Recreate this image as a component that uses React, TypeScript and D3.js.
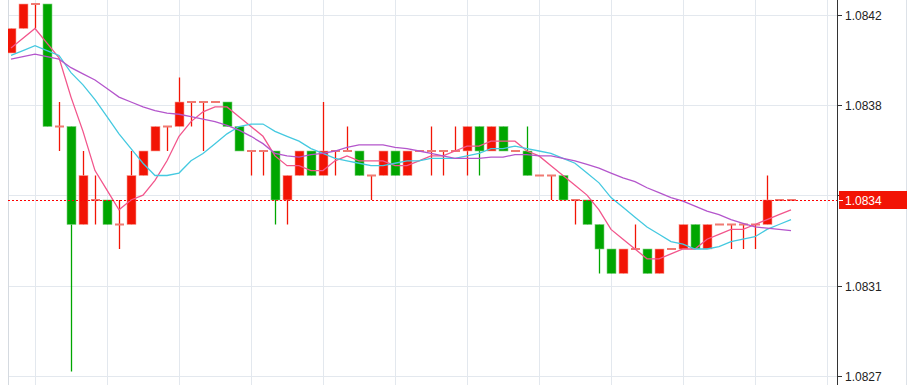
import * as d3 from 'd3';

// EUR/USD candles, 4-digit prices
const opens = [
  1.0840, 1.0841, 1.0842, 1.0842, 1.0837, 1.0837, 1.0833, 1.0834, 1.0834, 1.0833,
  1.0833, 1.0835, 1.0836, 1.0837, 1.0837, 1.0838, 1.0838, 1.0838, 1.0838, 1.0837,
  1.0836, 1.0836, 1.0836, 1.0834, 1.0835, 1.0836, 1.0835, 1.0836, 1.0836, 1.0836,
  1.0835, 1.0835, 1.0836, 1.0835, 1.0836, 1.0836, 1.0836, 1.0836, 1.0836, 1.0837,
  1.0836, 1.0837, 1.0836, 1.0836, 1.0835, 1.0835, 1.0835, 1.0834, 1.0834, 1.0833,
  1.0832, 1.0831, 1.0832, 1.0832, 1.0831, 1.0832, 1.0832, 1.0833, 1.0832, 1.0833,
  1.0833, 1.0833, 1.0833, 1.0833, 1.0834, 1.0834,
];
const closes = [
  1.0841, 1.0842, 1.0842, 1.0837, 1.0837, 1.0833, 1.0835, 1.0834, 1.0833, 1.0833,
  1.0835, 1.0836, 1.0837, 1.0837, 1.0838, 1.0838, 1.0838, 1.0838, 1.0837, 1.0836,
  1.0836, 1.0836, 1.0834, 1.0835, 1.0836, 1.0835, 1.0836, 1.0836, 1.0836, 1.0835,
  1.0835, 1.0836, 1.0835, 1.0836, 1.0836, 1.0836, 1.0836, 1.0836, 1.0837, 1.0836,
  1.0837, 1.0836, 1.0836, 1.0835, 1.0835, 1.0835, 1.0834, 1.0834, 1.0833, 1.0832,
  1.0831, 1.0832, 1.0832, 1.0831, 1.0832, 1.0832, 1.0833, 1.0832, 1.0833, 1.0833,
  1.0833, 1.0833, 1.0833, 1.0834, 1.0834, 1.0834,
];
const highs = [
  1.0841, 1.0842, 1.0842, 1.0842, 1.0838, 1.0837, 1.0836, 1.0835, 1.0834, 1.0834,
  1.0836, 1.0836, 1.0837, 1.0837, 1.0839, 1.0838, 1.0838, 1.0838, 1.0838, 1.0837,
  1.0836, 1.0836, 1.0836, 1.0835, 1.0836, 1.0836, 1.0838, 1.0836, 1.0837, 1.0836,
  1.0835, 1.0836, 1.0836, 1.0836, 1.0836, 1.0837, 1.0836, 1.0837, 1.0837, 1.0837,
  1.0837, 1.0837, 1.0836, 1.0837, 1.0835, 1.0835, 1.0835, 1.0834, 1.0834, 1.0833,
  1.0832, 1.0832, 1.0833, 1.0832, 1.0832, 1.0832, 1.0833, 1.0833, 1.0833, 1.0833,
  1.0833, 1.0833, 1.0833, 1.0835, 1.0834, 1.0834,
];
const lows = [
  1.0840, 1.0841, 1.0841, 1.0837, 1.0836, 1.0827, 1.0833, 1.0833, 1.0833, 1.0832,
  1.0833, 1.0835, 1.0836, 1.0836, 1.0837, 1.0837, 1.0836, 1.0838, 1.0837, 1.0836,
  1.0835, 1.0835, 1.0833, 1.0833, 1.0835, 1.0835, 1.0835, 1.0835, 1.0836, 1.0835,
  1.0834, 1.0835, 1.0835, 1.0835, 1.0836, 1.0835, 1.0835, 1.0836, 1.0835, 1.0835,
  1.0836, 1.0836, 1.0836, 1.0835, 1.0835, 1.0834, 1.0834, 1.0833, 1.0833, 1.0831,
  1.0831, 1.0831, 1.0832, 1.0831, 1.0831, 1.0832, 1.0832, 1.0832, 1.0832, 1.0833,
  1.0832, 1.0832, 1.0832, 1.0833, 1.0834, 1.0834,
];
// closes before the first visible candle (needed for the moving averages)
const prevCloses = [
  1.0840, 1.0840, 1.0839, 1.0839, 1.0840, 1.0840, 1.0839, 1.0840, 1.0840, 1.0839,
  1.0840, 1.0840, 1.0839, 1.0839, 1.0840, 1.0840, 1.0840, 1.0840, 1.0840,
];
const maPeriods = [5, 10, 20];
const maColors = ['#f2568c', '#45c9e0', '#b456cc'];
const tickValues = [1.084155, 1.083787, 1.083419, 1.083051, 1.082683];
const tickLabels = ['1.0842', '1.0838', '1.0834', '1.0831', '1.0827'];
const lastPrice = 1.0834;
const lastLabel = '1.0834';

const W = 908;
const H = 385;
const plotLeft = 8;
const axisX = 837;
const UP = '#f21405';
const DOWN = '#00a600';
const FONT = "'Liberation Sans', Arial, sans-serif";

function sma(period: number) {
  const all = [...prevCloses, ...closes];
  const off = prevCloses.length;
  return closes.map((_, i) => {
    const end = i + off;
    return d3.mean(all.slice(end - period + 1, end + 1)) as number;
  });
}

export default function App() {
  const x = d3.scaleLinear().domain([0, 1]).range([11, 23]);
  const y = d3.scaleLinear().domain([1.0827, 1.0842]).range([371.5, 4]);

  const vGrid = d3.range(2, 69, 6);
  const line = d3.line<number>().x((_, i) => x(i)).y((d) => y(d));
  const lastY = Math.round(y(lastPrice));

  return (
    <svg width={W} height={H} style={{ position: 'absolute', left: 0, top: 0, background: '#fff' }}>
      <defs>
        <clipPath id="plot">
          <rect x={plotLeft} y={0} width={axisX - plotLeft} height={H} />
        </clipPath>
      </defs>
      {/* grid */}
      {tickValues.map((t) => (
        <line key={t} x1={plotLeft} x2={axisX} y1={Math.round(y(t)) + 0.5} y2={Math.round(y(t)) + 0.5} stroke="#e3e8ee" />
      ))}
      {vGrid.map((i) => (
        <line key={i} x1={Math.round(x(i)) + 0.5} x2={Math.round(x(i)) + 0.5} y1={0} y2={H} stroke="#e3e8ee" />
      ))}
      <line x1={plotLeft + 0.5} x2={plotLeft + 0.5} y1={0} y2={H} stroke="#d5dae0" />
      <line x1={W - 1.5} x2={W - 1.5} y1={0} y2={H} stroke="#dde2e8" />

      <g clipPath="url(#plot)">
        {closes.map((c, i) => {
          const o = opens[i];
          const cx = Math.round(x(i)) + 0.5;
          const up = c > o;
          const doji = c === o;
          const col = up || doji ? UP : DOWN;
          const top = y(Math.max(o, c));
          const bot = y(Math.min(o, c));
          return (
            <g key={i}>
              {highs[i] !== lows[i] && (
                <line x1={cx} x2={cx} y1={y(highs[i])} y2={y(lows[i])} stroke={col} strokeWidth={1.3} />
              )}
              {doji ? (
                <rect x={cx - 4.5} y={top - 1} width={9} height={2} fill="#f07a72" />
              ) : (
                <rect
                  x={cx - 4.5}
                  y={top}
                  width={9}
                  height={bot - top}
                  fill={col}
                  stroke={up ? '#f7a39c' : '#7fd07f'}
                  strokeWidth={0.6}
                />
              )}
            </g>
          );
        })}
        {maPeriods.map((p, k) => (
          <path key={p} d={line(sma(p)) || ''} fill="none" stroke={maColors[k]} strokeWidth={1.3} />
        ))}
        <line x1={plotLeft} x2={axisX} y1={lastY + 0.5} y2={lastY + 0.5} stroke="#f00" strokeDasharray="2 2" />
      </g>

      {/* price axis */}
      <line x1={axisX + 0.5} x2={axisX + 0.5} y1={0} y2={H} stroke="#333" />
      {tickValues.map((t, i) => {
        const ty = Math.round(y(t)) + 0.5;
        // the label under the last-price box is hidden, as in the terminal
        const hidden = Math.abs(ty - lastY) < 12;
        return (
          <g key={t} transform={`translate(${axisX},${ty})`}>
            <line x1={0} x2={5} stroke="#333" />
            {!hidden && (
              <text x={8} dy="0.35em" fontSize={12} fontFamily={FONT} fill="#222">
                {tickLabels[i]}
              </text>
            )}
          </g>
        );
      })}
      <g transform={`translate(${axisX + 2},${lastY})`}>
        <rect x={0} y={-9} width={W - axisX - 3} height={18} fill="#f21405" />
        <line x1={0} x2={4} y1={0.5} y2={0.5} stroke="#fff" />
        <text x={6} dy="0.38em" fontSize={12} fontFamily={FONT} fill="#fff">
          {lastLabel}
        </text>
      </g>
    </svg>
  );
}
